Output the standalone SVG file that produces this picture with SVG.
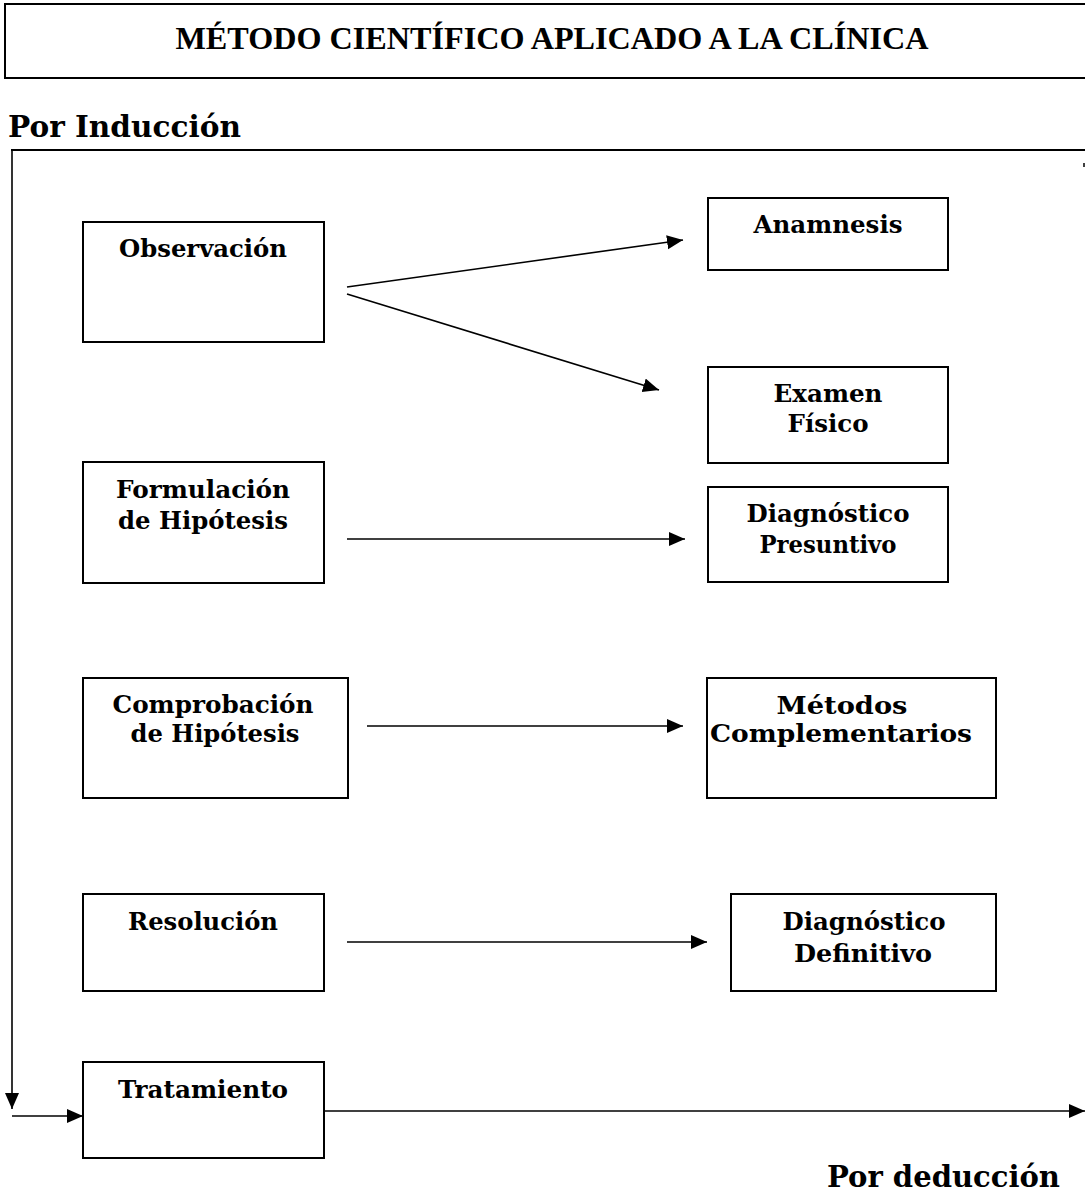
<svg xmlns="http://www.w3.org/2000/svg" width="1085" height="1192" viewBox="0 0 1085 1192">
<defs>
<style>
.box{fill:#fff;stroke:#000;stroke-width:2}
.frame{fill:none;stroke:#000;stroke-width:2}
.lbl{font-family:"DejaVu Serif","Liberation Serif",serif;font-weight:bold;font-size:25px;fill:#000;text-anchor:middle}
.head{font-family:"DejaVu Serif","Liberation Serif",serif;font-weight:bold;font-size:30px;fill:#000}
.title{font-family:"Liberation Serif","Times New Roman",serif;font-weight:bold;font-size:32px;fill:#000;text-anchor:middle}
.conn{fill:none;stroke:#000;stroke-width:1.6}
</style>
<marker id="arr" markerUnits="userSpaceOnUse" markerWidth="17" markerHeight="15" refX="16" refY="7" orient="auto">
<path d="M0,0 L16,7 L0,14 Z" fill="#000"/>
</marker>
</defs>
<rect width="1085" height="1192" fill="#fff"/>
<g id="title">
<rect x="5" y="4" width="1090" height="74" class="frame"/>
<text x="552" y="49" class="title" textLength="753" lengthAdjust="spacingAndGlyphs">MÉTODO CIENTÍFICO APLICADO A LA CLÍNICA</text>
</g>
<text id="por-induccion" x="8" y="137" class="head" textLength="233" lengthAdjust="spacingAndGlyphs">Por Inducción</text>
<text id="por-deduccion" x="827" y="1187" class="head" textLength="233" lengthAdjust="spacingAndGlyphs">Por deducción</text>
<g id="frame">
<line x1="11" y1="150" x2="1085" y2="150" class="frame"/>
<line x1="1084" y1="163" x2="1084" y2="167" stroke="#000" stroke-width="1.5"/>
</g>
<g id="observacion"><rect x="83" y="222" width="241" height="120" class="box"/><text x="203" y="257" class="lbl" textLength="168" lengthAdjust="spacingAndGlyphs">Observación</text></g>
<g id="anamnesis"><rect x="708" y="198" width="240" height="72" class="box"/><text x="828" y="233" class="lbl" textLength="149" lengthAdjust="spacingAndGlyphs">Anamnesis</text></g>
<g id="examen-fisico"><rect x="708" y="367" width="240" height="96" class="box"/><text x="828" y="402" class="lbl" textLength="109" lengthAdjust="spacingAndGlyphs">Examen</text><text x="828" y="432" class="lbl" textLength="81" lengthAdjust="spacingAndGlyphs">Físico</text></g>
<g id="formulacion"><rect x="83" y="462" width="241" height="121" class="box"/><text x="203" y="498" class="lbl" textLength="174" lengthAdjust="spacingAndGlyphs">Formulación</text><text x="203" y="529" class="lbl" textLength="170" lengthAdjust="spacingAndGlyphs">de Hipótesis</text></g>
<g id="diag-presuntivo"><rect x="708" y="487" width="240" height="95" class="box"/><text x="828" y="522" class="lbl" textLength="163" lengthAdjust="spacingAndGlyphs">Diagnóstico</text><text x="828" y="553" class="lbl" textLength="137" lengthAdjust="spacingAndGlyphs">Presuntivo</text></g>
<g id="comprobacion"><rect x="83" y="678" width="265" height="120" class="box"/><text x="213" y="713" class="lbl" textLength="201" lengthAdjust="spacingAndGlyphs">Comprobación</text><text x="215" y="742" class="lbl" textLength="169" lengthAdjust="spacingAndGlyphs">de Hipótesis</text></g>
<g id="metodos"><rect x="707" y="678" width="289" height="120" class="box"/><text x="842" y="714" class="lbl" textLength="131" lengthAdjust="spacingAndGlyphs">Métodos</text><text x="841" y="742" class="lbl" textLength="262" lengthAdjust="spacingAndGlyphs">Complementarios</text></g>
<g id="resolucion"><rect x="83" y="894" width="241" height="97" class="box"/><text x="203" y="930" class="lbl" textLength="150" lengthAdjust="spacingAndGlyphs">Resolución</text></g>
<g id="diag-definitivo"><rect x="731" y="894" width="265" height="97" class="box"/><text x="864" y="930" class="lbl" textLength="163" lengthAdjust="spacingAndGlyphs">Diagnóstico</text><text x="863" y="962" class="lbl" textLength="138" lengthAdjust="spacingAndGlyphs">Definitivo</text></g>
<g id="tratamiento"><rect x="83" y="1062" width="241" height="96" class="box"/><text x="203" y="1098" class="lbl" textLength="170" lengthAdjust="spacingAndGlyphs">Tratamiento</text></g>
<g id="connectors">
<line x1="347" y1="287" x2="683" y2="240" class="conn" marker-end="url(#arr)"/>
<line x1="347" y1="294" x2="659" y2="390" class="conn" marker-end="url(#arr)"/>
<line x1="347" y1="539" x2="685" y2="539" class="conn" marker-end="url(#arr)"/>
<line x1="367" y1="726" x2="683" y2="726" class="conn" marker-end="url(#arr)"/>
<line x1="347" y1="942" x2="707" y2="942" class="conn" marker-end="url(#arr)"/>
<line x1="12" y1="150" x2="12" y2="1109" class="conn" marker-end="url(#arr)"/>
<line x1="12" y1="1116" x2="83" y2="1116" class="conn" marker-end="url(#arr)"/>
<line x1="324" y1="1111" x2="1085" y2="1111" class="conn" marker-end="url(#arr)"/>
</g>
</svg>
